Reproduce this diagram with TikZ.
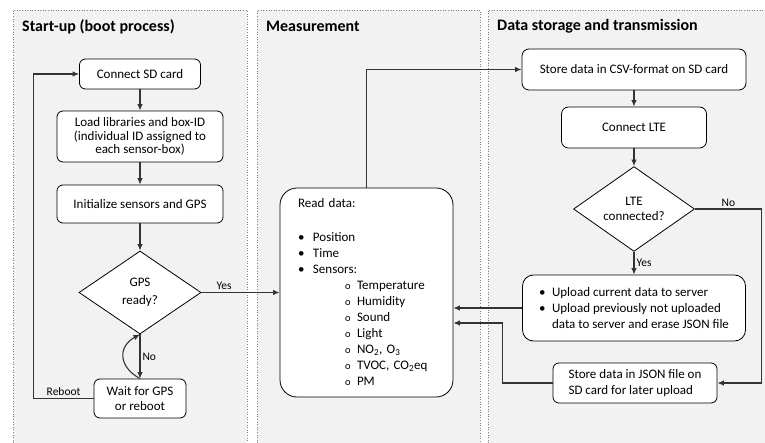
\documentclass[tikz,border=0pt]{standalone}
\usepackage{fontspec}
\setmainfont{Carlito}
\usetikzlibrary{shapes.geometric,arrows.meta}
\definecolor{panelbg}{HTML}{F2F2F2}
\definecolor{linegray}{HTML}{333333}
\newcommand{\bulitem}[2][15pt]{\makebox[#1][l]{\textbullet}#2}
\newcommand{\subbul}[1]{\hspace*{47pt}\makebox[12pt][l]{\fontsize{10.5}{10.5}\selectfont o}#1}

\begin{document}
\begin{tikzpicture}
  [x=1pt, y=-1pt,
   panelframe/.style={draw=gray, dotted, line width=0.6pt},
   title/.style={anchor=west, inner sep=1pt, font=\fontsize{16}{19}\selectfont\bfseries},
   box/.style={draw=black, line width=0.8pt, fill=white, rounded corners=6pt, align=center, font=\fontsize{13}{13.3}\selectfont},
   decision/.style={diamond, draw=black, line width=0.8pt, fill=white, align=center, inner sep=0pt, font=\fontsize{13}{15}\selectfont},
   arr/.style={draw=linegray, line width=1.1pt, -{Latex[length=6.5pt,width=5.5pt]}},
   lbl/.style={font=\fontsize{11.5}{13}\selectfont, inner sep=2pt}]

  \useasboundingbox (0,0) rectangle (765,443);

  % panels
  \foreach \l/\r in {13/247, 257/480, 488/768} {
    \fill[panelbg] (\l,10) rectangle (\r,443);
    \draw[panelframe] (\l,443) -- (\l,10) -- (\r,10) -- (\r,443);
  }
  \node[title] (t1) at (21,26.5) {Start-up (boot process)};
  \node[title] (t2) at (265,26.5) {Measurement};
  \node[title] (t3) at (496,26.5) {Data storage and transmission};

  % start-up
  \node[box, minimum width=121pt, minimum height=30pt] (sd) at (140,74) {Connect SD card};
  \node[box, minimum width=166pt, minimum height=51pt] (libs) at (140,136.5)
    {Load libraries and box-ID\\(individual ID assigned to\\each sensor-box)};
  \node[box, minimum width=166pt, minimum height=38pt] (init) at (140,204) {Initialize sensors and GPS};
  \node[decision, minimum width=122pt, minimum height=83pt, font=\fontsize{13}{17.5}\selectfont] (gps) at (140,292.5) {GPS\\ready?};
  \node[box, minimum width=92pt, minimum height=39pt, font=\fontsize{13}{15}\selectfont] (wait) at (140,398.5) {Wait for GPS\\or reboot};

  % measurement
  \node[box, rounded corners=17pt, minimum width=173pt, minimum height=209pt, text width=137pt,
        inner xsep=18pt, align=left, font=\fontsize{13}{16}\selectfont] (read) at (366.5,292.5)
    {Read data:\\[18pt]
     \bulitem{Position}\\
     \bulitem{Time}\\
     \bulitem{Sensors:}\\
     \subbul{Temperature}\\
     \subbul{Humidity}\\
     \subbul{Sound}\\
     \subbul{Light}\\
     \subbul{NO\textsubscript{2}, O\textsubscript{3}}\\
     \subbul{TVOC, CO\textsubscript{2}eq}\\
     \subbul{PM}};

  % storage and transmission
  \node[box, rounded corners=7pt, minimum width=224pt, minimum height=41pt] (csv) at (634,69.5) {Store data in CSV-format on SD card};
  \node[box, rounded corners=7pt, minimum width=145pt, minimum height=41pt] (lteon) at (634,127.5) {Connect LTE};
  \node[decision, minimum width=121pt, minimum height=84pt] (lte) at (634,209) {LTE\\connected?};
  \node[box, rounded corners=11pt, minimum width=223pt, minimum height=66pt, align=left,
        font=\fontsize{13}{16}\selectfont] (upload) at (634,308)
    {\bulitem[13pt]{Upload current data to server}\\
     \bulitem[13pt]{Upload previously not uploaded}\\
     \hspace*{13pt}data to server and erase JSON file};
  \node[box, minimum width=164pt, minimum height=40pt, align=left, font=\fontsize{13}{16}\selectfont] (json) at (635,383)
    {Store data in JSON file on\\SD card for later upload};

  \foreach \from/\to in {sd/libs, libs/init, init/gps, csv/lteon, lteon/lte}
    \draw[arr] (\from.south) -- (\to.north);

  \draw[arr] (gps.south) -- node[lbl, right] {No} (wait.north);
  \draw[arr] (wait.north) .. controls +(-22,-12) and +(-22,12) .. (gps.south);
  \draw[arr] (wait.west) -- node[lbl, above] {Reboot} ++(-60,0) |- (sd.west);
  \draw[arr] (gps.east) -- node[lbl, above, pos=0.29] {Yes} (read.west);

  \draw[arr] (read.north) |- (csv.west);
  \draw[arr] (lte.south) -- node[lbl, right] {Yes} (upload.north);
  \draw[arr] (lte.east) -- node[lbl, above] {No} ++(67,0) |- (json.east);
  \draw[arr] (upload.west) -- (upload.west -| read.east);
  \draw[arr] (json.west) -- ++(-50,0) |- ([yshift=-30.5pt]read.east);
\end{tikzpicture}
\end{document}
